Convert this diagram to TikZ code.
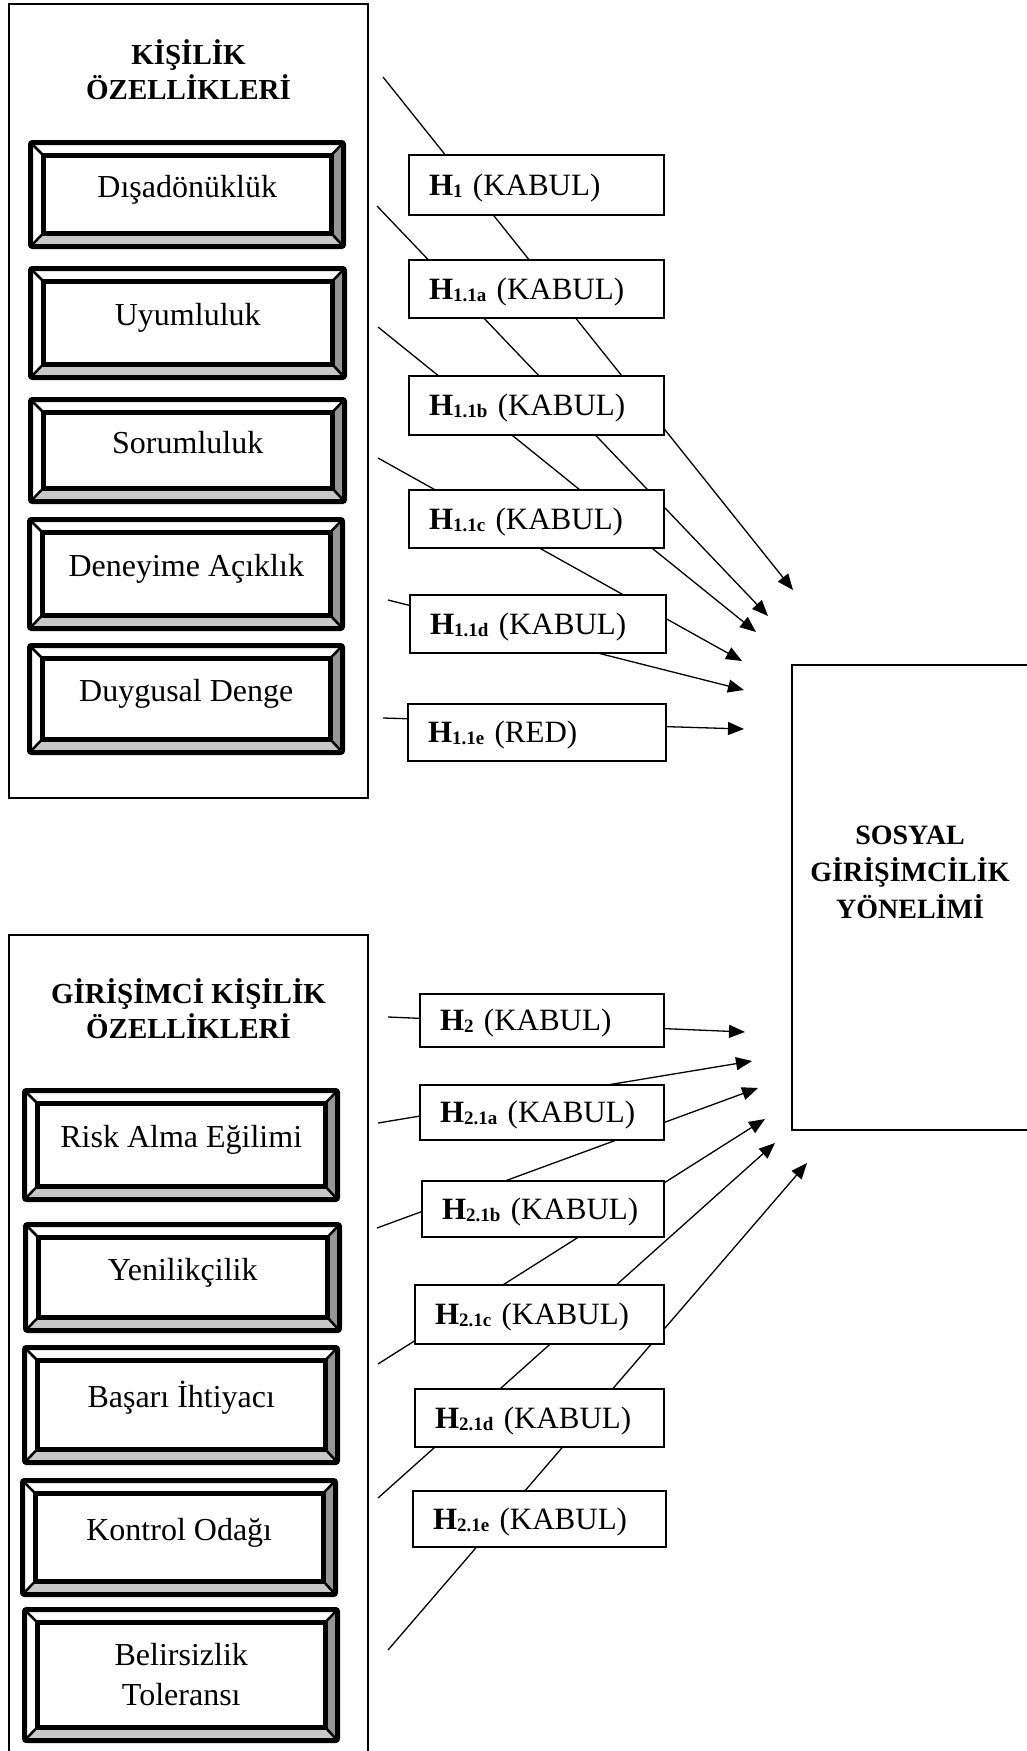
\documentclass[tikz,border=0pt]{standalone}
\usepackage{fontspec}
\setmainfont{Liberation Serif}
\usetikzlibrary{arrows.meta}
\definecolor{bevlight}{RGB}{200,200,200}
\definecolor{bevdark}{RGB}{150,150,150}

\newcommand\hsub[1]{\raisebox{-2pt}{\fontsize{19}{19}\selectfont\bfseries #1}}
\newcommand\hlab[2]{{\bfseries H}\hsub{#1} (#2)}

\tikzset{
  x=1pt, y=-1pt,
  bigframe/.style={draw, line width=2pt, inner sep=0pt},
  titletext/.style={font=\bfseries\fontsize{29}{35}\selectfont, align=center, inner sep=0pt},
  innerbev/.style={draw, line width=5pt, fill=white, inner sep=0pt, align=center,
     font=\fontsize{32}{40}\selectfont, text height=18pt, text depth=12pt},
  hypstyle/.style={draw, line width=2pt, fill=white, inner xsep=20pt, inner ysep=0pt,
     align=left, font=\fontsize{31}{36}\selectfont, text height=20pt, text depth=0pt},
  conn/.style={line width=1.3pt, -{Triangle[length=16pt,width=13pt]}},
}

% bevel box: [opts] name, left, top, right, bottom (outer edges), text
\newcommand\bevelbox[7][]{%
  \pgfmathsetmacro\bvL{#3+2.5}%
  \pgfmathsetmacro\bvT{#4+2.5}%
  \pgfmathsetmacro\bvR{#5-2.5}%
  \pgfmathsetmacro\bvB{#6-2.5}%
  \pgfmathsetmacro\bvl{\bvL+12.5}%
  \pgfmathsetmacro\bvt{\bvT+12.5}%
  \pgfmathsetmacro\bvr{\bvR-12}%
  \pgfmathsetmacro\bvb{\bvB-13}%
  \pgfmathsetmacro\bvw{\bvr-\bvl}%
  \pgfmathsetmacro\bvh{\bvb-\bvt}%
  \pgfmathsetmacro\bvcx{(\bvl+\bvr)/2}%
  \pgfmathsetmacro\bvcy{(\bvt+\bvb)/2}%
  \fill[white] (\bvL,\bvT) rectangle (\bvR,\bvB);
  \fill[bevlight] (\bvL,\bvB) -- (\bvR,\bvB) -- (\bvr,\bvb) -- (\bvl,\bvb) -- cycle;
  \fill[bevdark] (\bvR,\bvT) -- (\bvR,\bvB) -- (\bvr,\bvb) -- (\bvr,\bvt) -- cycle;
  \draw[line width=2.5pt] (\bvL,\bvT) -- (\bvl,\bvt) (\bvR,\bvT) -- (\bvr,\bvt)
        (\bvL,\bvB) -- (\bvl,\bvb) (\bvR,\bvB) -- (\bvr,\bvb);
  \draw[line width=5pt, rounded corners=2pt] (\bvL,\bvT) rectangle (\bvR,\bvB);
  \node[innerbev, minimum width=\bvw pt, minimum height=\bvh pt, #1] (#2) at (\bvcx,\bvcy) {#7};
}

% hypothesis box: name, left, top, right, bottom (outer edges), content
\newcommand\hypbox[6]{%
  \pgfmathsetmacro\hbw{#4-#2-2}%
  \pgfmathsetmacro\hbh{#5-#3-2}%
  \pgfmathsetmacro\hbtw{#4-#2-42}%
  \pgfmathsetmacro\hbcx{(#2+#4)/2}%
  \pgfmathsetmacro\hbcy{(#3+#5)/2}%
  \node[hypstyle, minimum width=\hbw pt, minimum height=\hbh pt, text width=\hbtw pt] (#1) at (\hbcx,\hbcy) {#6};
}

\begin{document}
\begin{tikzpicture}
\useasboundingbox (0,0) rectangle (1027,1751);
\clip (0,0) rectangle (1027,1751);

% left frames
\node[bigframe, minimum width=359pt, minimum height=794pt] (frameA) at (188.5,401) {};
\node[bigframe, minimum width=359pt, minimum height=865pt] (frameB) at (188.5,1367.5) {};

\node[titletext] (titleA) at (188.5,70) {KİŞİLİK\\ÖZELLİKLERİ};
\node[titletext] (titleB) at (188.5,1009) {GİRİŞİMCİ KİŞİLİK\\ÖZELLİKLERİ};

% bevel boxes, first group
\bevelbox{b1}{28}{140}{346}{249}{Dışadönüklük}
\bevelbox{b2}{28}{266}{347}{380}{Uyumluluk}
\bevelbox{b3}{28}{397}{347}{504}{Sorumluluk}
\bevelbox{b4}{27}{517}{345}{631}{Deneyime Açıklık}
\bevelbox{b5}{27}{643}{345}{755}{Duygusal Denge}

% bevel boxes, second group
\bevelbox{c1}{22}{1088}{340}{1202}{Risk Alma Eğilimi}
\bevelbox{c2}{23}{1222}{342}{1333}{Yenilikçilik}
\bevelbox{c3}{22}{1345}{340}{1465}{Başarı İhtiyacı}
\bevelbox{c4}{20}{1478}{338}{1597}{Kontrol Odağı}
\bevelbox[text height={}, text depth={}]{c5}{22}{1607}{340}{1743}{Belirsizlik\\Toleransı}

% connectors (behind hypothesis boxes)
\coordinate (s1) at (383,77);    \coordinate (t1) at (793,590);
\coordinate (s2) at (377,206);   \coordinate (t2) at (768,616);
\coordinate (s3) at (378,327);   \coordinate (t3) at (756,632);
\coordinate (s4) at (378,458);   \coordinate (t4) at (742,661);
\coordinate (s5) at (388,600);   \coordinate (t5) at (744,690);
\coordinate (s6) at (383,718);   \coordinate (t6) at (744,729);
\coordinate (s7) at (388,1017);  \coordinate (t7) at (745,1032);
\coordinate (s8) at (378,1123);  \coordinate (t8) at (752,1061);
\coordinate (s9) at (377,1228);  \coordinate (t9) at (758,1088);
\coordinate (s10) at (378,1364); \coordinate (t10) at (765,1119);
\coordinate (s11) at (378,1498); \coordinate (t11) at (775,1143);
\coordinate (s12) at (388,1650); \coordinate (t12) at (807,1163);
\foreach \i in {1,...,12} { \draw[conn] (s\i) -- (t\i); }

% hypothesis boxes
\hypbox{h1}{408}{154}{665}{216}{\hlab{1}{KABUL}}
\hypbox{h11a}{408}{259}{665}{319}{\hlab{1.1a}{KABUL}}
\hypbox{h11b}{408}{375}{665}{436}{\hlab{1.1b}{KABUL}}
\hypbox{h11c}{408}{489}{665}{549}{\hlab{1.1c}{KABUL}}
\hypbox{h11d}{409}{594}{667}{654}{\hlab{1.1d}{KABUL}}
\hypbox{h11e}{407}{703}{667}{762}{\hlab{1.1e}{RED}}
\hypbox{h2}{419}{993}{665}{1048}{\hlab{2}{KABUL}}
\hypbox{h21a}{419}{1084}{665}{1141}{\hlab{2.1a}{KABUL}}
\hypbox{h21b}{421}{1180}{665}{1238}{\hlab{2.1b}{KABUL}}
\hypbox{h21c}{414}{1284}{665}{1345}{\hlab{2.1c}{KABUL}}
\hypbox{h21d}{414}{1388}{665}{1448}{\hlab{2.1d}{KABUL}}
\hypbox{h21e}{412}{1490}{667}{1548}{\hlab{2.1e}{KABUL}}

% target box
\node[bigframe, minimum width=249pt, minimum height=465pt] (target) at (916,897.5) {};
\node[font=\bfseries\fontsize{28}{37}\selectfont, align=center, inner sep=0pt] (targettext) at (910,872.5) {SOSYAL\\GİRİŞİMCİLİK\\YÖNELİMİ};
\end{tikzpicture}
\end{document}
